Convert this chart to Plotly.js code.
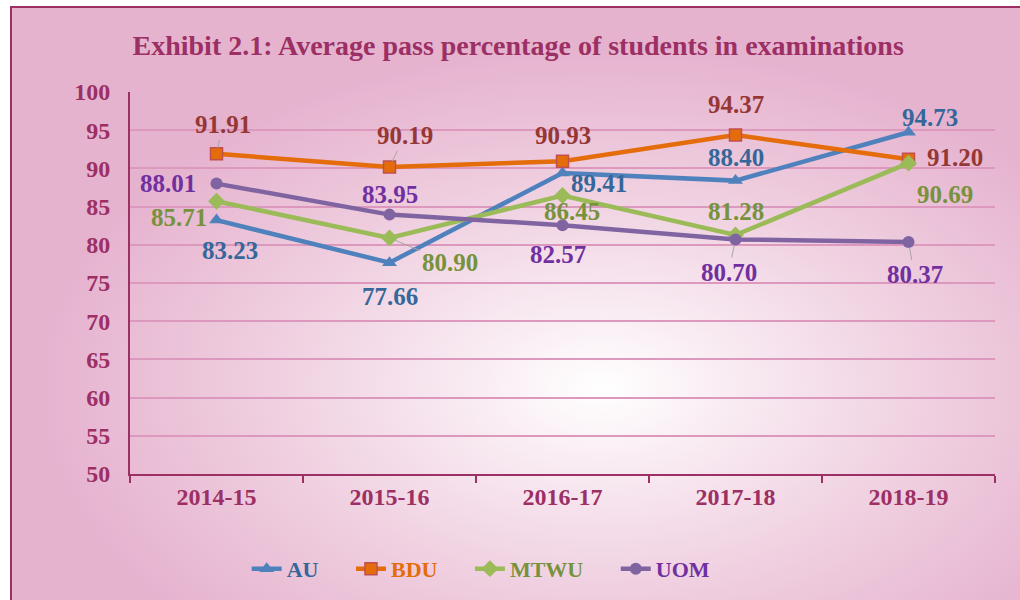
<!DOCTYPE html>
<html>
<head>
<meta charset="utf-8">
<script src="https://cdn.plot.ly/plotly-3.0.1.min.js"></script>
<style>
  html, body { margin: 0; padding: 0; background: #ffffff; width: 1020px; height: 600px; overflow: hidden; }
  #bg { position: absolute; left: 10px; top: 6px; width: 1012px; height: 596px;
        border-left: 2px solid #9c2f64; border-top: 2px solid #9c2f64;
        background: radial-gradient(ellipse 560px 340px at 590px 380px, #ffffff 0%, #f7e6ef 30%, #eecbdd 65%, #e6b3cf 100%); }
  #chart { position: absolute; left: 0; top: 0; width: 1020px; height: 600px; }
</style>
</head>
<body>
<div id="bg"></div>
<div id="chart"></div>
<script>
// ---- data ----
const years = ["2014-15", "2015-16", "2016-17", "2017-18", "2018-19"];
const seriesNames = ["AU", "BDU", "MTWU", "UOM"];
const au   = [83.23, 77.66, 89.41, 88.40, 94.73];
const bdu  = [91.91, 90.19, 90.93, 94.37, 91.20];
const mtwu = [85.71, 80.90, 86.45, 81.28, 90.69];
const uom  = [88.01, 83.95, 82.57, 80.70, 80.37];
const yTicks = [50, 55, 60, 65, 70, 75, 80, 85, 90, 95, 100];

// ---- styles ----
const FONT = '"Liberation Serif", "Times New Roman", serif';
const AXC = '#9c2f64';
const styles = [
  { line: '#4f81bd', marker: { symbol: 'triangle-up', size: 13, color: '#4f81bd' }, label: '#35679a', legend: '#35679a' },
  { line: '#e46c0a', marker: { symbol: 'square', size: 12, color: '#e46c0a', line: { color: '#c0504d', width: 1.5 } }, label: '#953735', legend: '#e46c0a' },
  { line: '#9bbb59', marker: { symbol: 'diamond', size: 13, color: '#9bbb59' }, label: '#76923c', legend: '#76923c' },
  { line: '#8064a2', marker: { symbol: 'circle', size: 12, color: '#8064a2' }, label: '#7030a0', legend: '#7030a0' }
];
// label offsets in px [ax, ay] and whether a leader line is drawn
const labelOffsets = [
  [[13, 30, 0], [0, 34, 0], [36, 11, 0], [0, -23, 0], [21, -15, 0]],
  [[6, -29, 1], [15, -31, 1], [0, -26, 0], [0, -31, 0], [46, -2, 0]],
  [[-38, 16, 0], [60, 25, 1], [9, 16, 0], [0, -24, 0], [36, 31, 0]],
  [[-49, 0, 0], [0, -20, 0], [-5, 29, 0], [-7, 33, 1], [6, 33, 1]]
];
// extra spacing after legend entries (non-breaking spaces)
const legendPad = [5, 5, 5, 0];

const allSeries = [au, bdu, mtwu, uom];
const traces = allSeries.map((vals, i) => ({
  type: 'scatter', mode: 'lines+markers',
  name: seriesNames[i] + '\u00a0'.repeat(legendPad[i]),
  x: years, y: vals,
  line: { color: styles[i].line, width: 4.5 },
  marker: styles[i].marker,
  hoverinfo: 'skip'
}));

const annotations = [];
allSeries.forEach((vals, i) => {
  vals.forEach((v, j) => {
    const o = labelOffsets[i][j];
    annotations.push({
      x: years[j], y: v, xref: 'x', yref: 'y',
      text: v.toFixed(2),
      showarrow: true, arrowhead: 0, arrowwidth: 1,
      arrowcolor: o[2] ? '#a6a6a6' : 'rgba(0,0,0,0)',
      standoff: 6,
      ax: o[0], ay: o[1],
      font: { family: FONT, size: 25, color: styles[i].label, weight: 'bold' }
    });
  });
});

const layout = {
  width: 1020, height: 600,
  paper_bgcolor: 'rgba(0,0,0,0)', plot_bgcolor: 'rgba(0,0,0,0)',
  margin: { l: 130, r: 25, t: 92, b: 125 },
  font: { family: FONT, color: AXC },
  title: {
    text: '<b>Exhibit 2.1: Average pass percentage of students in examinations</b>',
    xref: 'container', yref: 'container', x: 0.508, y: 0.925, xanchor: 'center', yanchor: 'middle',
    font: { family: FONT, size: 28, color: AXC }
  },
  xaxis: {
    type: 'category', range: [-0.5, 4.5],
    showline: true, linecolor: AXC, linewidth: 2,
    ticks: 'outside', tickson: 'boundaries', ticklen: 7, tickwidth: 2, tickcolor: AXC,
    showgrid: false, zeroline: false,
    tickfont: { family: FONT, size: 24, color: AXC, weight: 'bold' },
    fixedrange: true
  },
  yaxis: {
    range: [50, 100], tickvals: yTicks, ticktext: yTicks.map(String),
    showline: true, linecolor: AXC, linewidth: 2,
    ticks: '', showgrid: true, gridcolor: '#dc98bd', gridwidth: 2, zeroline: false,
    tickfont: { family: FONT, size: 24, color: AXC, weight: 'bold' },
    ticklabelstandoff: 13,
    fixedrange: true
  },
  showlegend: true,
  legend: {
    orientation: 'h', x: 0.406, xanchor: 'center', y: -0.245, yanchor: 'middle',
    bgcolor: 'rgba(0,0,0,0)', font: { family: FONT, size: 22, weight: 'bold' },
    tracegroupgap: 0
  },
  annotations: annotations
};

Plotly.newPlot('chart', traces, layout, { displayModeBar: false, staticPlot: true }).then(() => {
  // colour legend texts per series
  const texts = document.querySelectorAll('.legendtext');
  texts.forEach((t, i) => { if (styles[i]) t.style.fill = styles[i].legend; });
});
</script>
</body>
</html>
